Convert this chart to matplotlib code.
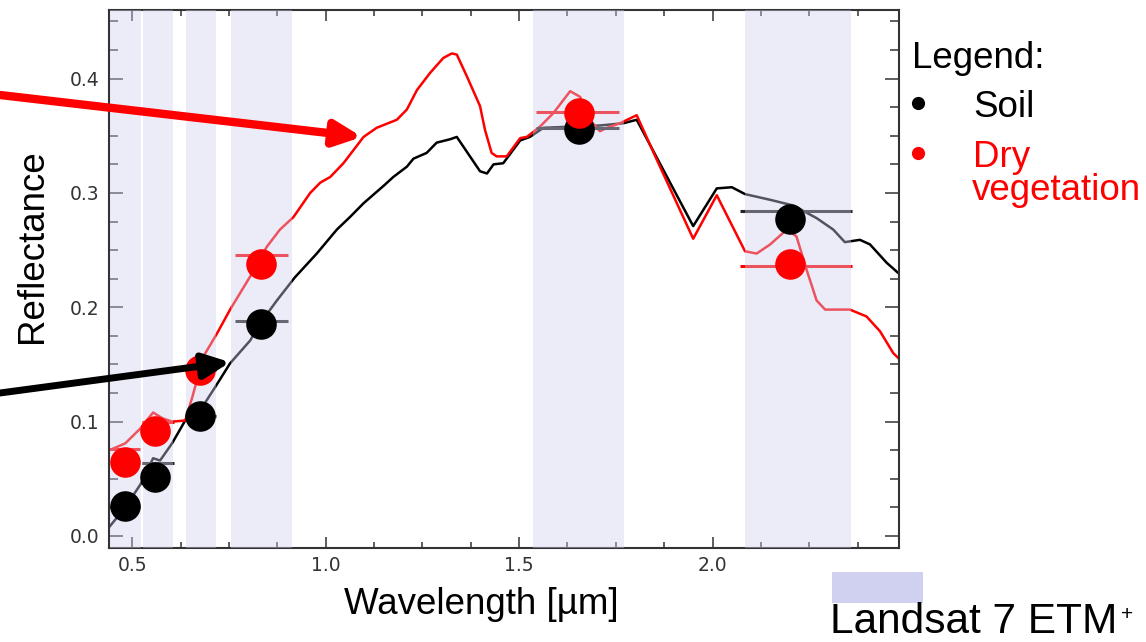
import numpy as np
import matplotlib
matplotlib.use('Agg')
import matplotlib.pyplot as plt
from matplotlib.patches import Rectangle
from matplotlib.ticker import MultipleLocator

plt.rcParams['font.family'] = ['Liberation Sans', 'DejaVu Sans']

# Reflectance spectra (wavelength in micrometres)
soil_wl = [0.441, 0.482, 0.521, 0.554, 0.572, 0.603, 0.637, 0.676, 0.714, 0.753,
           0.805, 0.833, 0.874, 0.920, 0.977, 1.029, 1.063, 1.098, 1.149, 1.175,
           1.210, 1.227, 1.261, 1.287, 1.322, 1.339, 1.399, 1.417, 1.434, 1.459,
           1.503, 1.528, 1.563, 1.709, 1.770, 1.804, 1.950, 2.011, 2.050, 2.084,
           2.149, 2.209, 2.269, 2.312, 2.342, 2.381, 2.407, 2.450, 2.480]
soil_refl = [0.008, 0.025, 0.045, 0.068, 0.066, 0.081, 0.101, 0.110, 0.130, 0.151,
             0.171, 0.187, 0.206, 0.226, 0.247, 0.268, 0.279, 0.291, 0.306, 0.314,
             0.323, 0.330, 0.335, 0.344, 0.347, 0.349, 0.319, 0.317, 0.325, 0.326,
             0.346, 0.349, 0.357, 0.359, 0.361, 0.364, 0.271, 0.304, 0.305, 0.299,
             0.294, 0.289, 0.278, 0.268, 0.257, 0.259, 0.255, 0.239, 0.230]

veg_wl = [0.441, 0.482, 0.521, 0.554, 0.578, 0.603, 0.637, 0.655, 0.684, 0.719,
          0.753, 0.805, 0.848, 0.882, 0.917, 0.960, 0.986, 1.012, 1.046, 1.098,
          1.132, 1.184, 1.210, 1.236, 1.270, 1.304, 1.326, 1.339, 1.365, 1.399,
          1.412, 1.429, 1.442, 1.468, 1.503, 1.520, 1.554, 1.589, 1.632, 1.658,
          1.675, 1.709, 1.727, 1.761, 1.804, 1.856, 1.950, 2.011, 2.084, 2.114,
          2.149, 2.192, 2.217, 2.243, 2.269, 2.291, 2.355, 2.398, 2.433, 2.467, 2.482]
veg_refl = [0.075, 0.081, 0.094, 0.108, 0.103, 0.100, 0.101, 0.121, 0.157, 0.177,
            0.198, 0.227, 0.253, 0.268, 0.279, 0.300, 0.309, 0.314, 0.326, 0.349,
            0.357, 0.364, 0.373, 0.390, 0.405, 0.418, 0.422, 0.421, 0.402, 0.376,
            0.355, 0.335, 0.332, 0.332, 0.348, 0.349, 0.358, 0.370, 0.389, 0.384,
            0.367, 0.354, 0.357, 0.361, 0.368, 0.329, 0.260, 0.298, 0.249, 0.247,
            0.255, 0.268, 0.262, 0.233, 0.206, 0.198, 0.198, 0.192, 0.179, 0.160, 0.155]

# Landsat 7 ETM+ bands 1-5 and 7
band_lo = [0.443, 0.528, 0.640, 0.756, 1.537, 2.084]
band_hi = [0.522, 0.605, 0.717, 0.913, 1.771, 2.357]
bar_lo = [0.439, 0.525, 0.640, 0.766, 1.543, 2.071]
bar_hi = [0.521, 0.607, 0.717, 0.903, 1.757, 2.361]
band_centre = [0.482, 0.559, 0.676, 0.833, 1.655, 2.201]

# band-averaged reflectance (bars) and simulated band values (dots)
soil_bar = [0.025, 0.064, 0.105, 0.188, 0.357, 0.284]
veg_bar = [0.076, 0.100, 0.145, 0.246, 0.371, 0.236]
soil_dot = [0.026, 0.052, 0.105, 0.185, 0.356, 0.277]
veg_dot = [0.065, 0.092, 0.145, 0.238, 0.370, 0.238]

W, H = 1146, 642
fig = plt.figure(figsize=(W / 100, H / 100), dpi=100)
ax = fig.add_axes([109 / W, 1 - 548 / H, 790 / W, 538 / H])

ax.plot(soil_wl, soil_refl, color='black', lw=1.8, zorder=2)
ax.plot(veg_wl, veg_refl, color='red', lw=1.8, zorder=2)
ax.hlines(soil_bar, bar_lo, bar_hi, color='#222222', lw=2.2, zorder=2)
ax.hlines(veg_bar, bar_lo, bar_hi, color='red', lw=2.2, zorder=2)

# bands are laid semi-transparent over the spectra
for lo, hi in zip(band_lo, band_hi):
    ax.axvspan(lo, hi, color='#d0d0f0', alpha=0.4, lw=0, zorder=3)

ax.plot(band_centre, soil_dot, 'o', color='black', ms=22, mew=0, zorder=4)
ax.plot(band_centre, veg_dot, 'o', color='red', ms=22, mew=0, zorder=4)

ax.set_xlim(0.44, 2.482)
ax.set_ylim(-0.0105, 0.46)
ax.xaxis.set_major_locator(MultipleLocator(0.5))
ax.xaxis.set_minor_locator(MultipleLocator(0.125))
ax.yaxis.set_major_locator(MultipleLocator(0.1))
ax.yaxis.set_minor_locator(MultipleLocator(0.025))
ax.xaxis.set_major_formatter(matplotlib.ticker.FormatStrFormatter('%.1f'))
ax.yaxis.set_major_formatter(matplotlib.ticker.FormatStrFormatter('%.1f'))
ax.tick_params(direction='in', top=True, right=True, which='both', color='#333333', width=1.1)
ax.tick_params(axis='y', which='major', length=10, pad=7)
ax.tick_params(axis='y', which='minor', length=6.5)
ax.tick_params(axis='x', which='major', length=8, pad=6)
ax.tick_params(axis='x', which='minor', length=4)
for lab in ax.get_xticklabels() + ax.get_yticklabels():
    lab.set_family('DejaVu Sans')
    lab.set_fontsize(13.5)
    lab.set_color('#333333')
for sp in ax.spines.values():
    sp.set_linewidth(1.5)
    sp.set_color('#333333')

# arrows pointing in from the left edge
ax.annotate('', xy=(1.094, 0.349), xytext=(0, 1 - 95 / H), textcoords='figure fraction',
            arrowprops=dict(arrowstyle='-|>,head_length=1.6,head_width=0.75', mutation_scale=10,
                            lw=6, color='red', shrinkA=0, shrinkB=0),
            annotation_clip=False, zorder=6)
ax.annotate('', xy=(0.753, 0.152), xytext=(0, 1 - 393 / H), textcoords='figure fraction',
            arrowprops=dict(arrowstyle='-|>,head_length=1.6,head_width=0.75', mutation_scale=10,
                            lw=5, color='black', shrinkA=0, shrinkB=0),
            annotation_clip=False, zorder=6)

fig.text(32.5 / W, 1 - 246.5 / H, 'Reflectance', rotation=90, ha='center', va='center', fontsize=26.5)
fig.text(481 / W, 1 - 614 / H, 'Wavelength [µm]', ha='center', va='baseline', fontsize=26.5)

# legend
fig.text(912 / W, 1 - 68 / H, 'Legend:', ha='left', va='baseline', fontsize=26.5)
fig.lines.append(plt.Line2D([918 / W], [1 - 103 / H], marker='o', ms=9.5, color='black',
                            mew=0, transform=fig.transFigure))
fig.lines.append(plt.Line2D([918 / W], [1 - 152.7 / H], marker='o', ms=9.5, color='red',
                            mew=0, transform=fig.transFigure))
fig.text(973 / W, 1 - 117 / H, 'Soil', ha='left', va='baseline', fontsize=26.5)
fig.text(973 / W, 1 - 166.7 / H, 'Dry', ha='left', va='baseline', fontsize=26.5, color='red')
fig.text(972 / W, 1 - 200 / H, 'vegetation', ha='left', va='baseline', fontsize=26.5, color='red')

fig.patches.append(Rectangle((831.7 / W, 1 - 602.7 / H), 91.6 / W, 31 / H, color='#d0d0f0',
                             lw=0, transform=fig.transFigure))
fig.text(830 / W, 1 - 633 / H, 'Landsat 7 ETM', ha='left', va='baseline', fontsize=30.5)
fig.text(1127.5 / W, 1 - 615 / H, '+', ha='center', va='center', fontsize=15)

fig.savefig('out.png', dpi=100)
